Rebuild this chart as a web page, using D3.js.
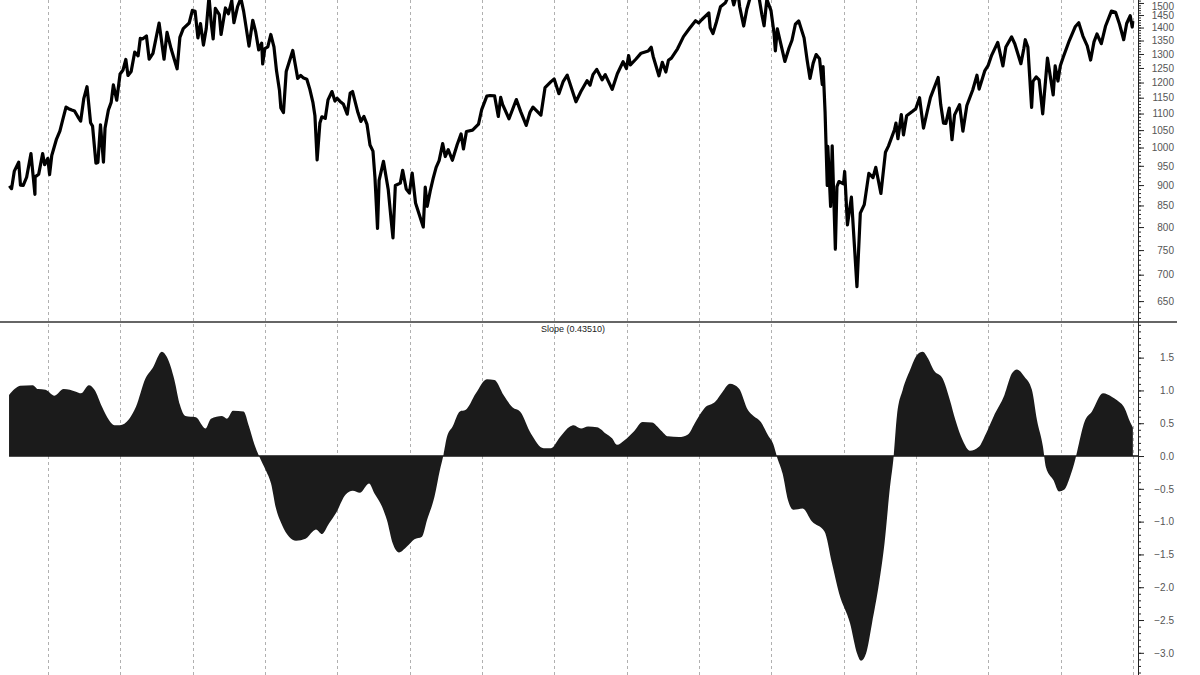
<!DOCTYPE html>
<html><head><meta charset="utf-8">
<script src="https://cdn.jsdelivr.net/npm/d3@7"></script>
<style>body{margin:0;background:#fff}svg{display:block}</style>
</head><body>
<svg id="c" width="1200" height="675"></svg>
<script>
// ---------------- DATA ----------------
const priceDates = [
 "1997-06-20","1997-07-01","1997-07-15","1997-08-06","1997-08-15","1997-08-29","1997-09-15","1997-10-07","1997-10-27","1997-10-28","1997-11-15","1997-12-05","1997-12-15","1997-12-31",
 "1998-01-09","1998-01-20","1998-02-13","1998-03-02","1998-03-16","1998-04-02","1998-04-15","1998-05-01","1998-05-15","1998-06-01","1998-06-15","1998-07-01","1998-07-17","1998-08-04","1998-08-14","1998-08-31","1998-09-10","1998-09-23","1998-10-08","1998-10-16","1998-11-02","1998-11-16","1998-11-27","1998-12-14","1998-12-31",
 "1999-01-15","1999-01-29","1999-02-09","1999-02-25","1999-03-15","1999-04-01","1999-04-12","1999-04-23","1999-05-13","1999-05-27","1999-06-15","1999-07-16","1999-08-10","1999-08-25","1999-09-15","1999-10-15","1999-10-29","1999-11-15","1999-12-15","1999-12-31",
 "2000-01-14","2000-01-28","2000-02-10","2000-02-25","2000-03-10","2000-03-24","2000-04-04","2000-04-14","2000-04-25","2000-05-15","2000-05-24","2000-06-15","2000-06-30","2000-07-17","2000-07-28","2000-08-15","2000-09-01","2000-09-15","2000-10-12","2000-10-31","2000-11-15","2000-11-30","2000-12-15","2000-12-20","2000-12-31",
 "2001-01-15","2001-01-30","2001-02-15","2001-02-28","2001-03-15","2001-03-22","2001-04-04","2001-04-18","2001-05-21","2001-06-15","2001-06-30","2001-07-15","2001-07-31","2001-08-15","2001-08-31","2001-09-10","2001-09-21","2001-10-05","2001-10-15","2001-11-01","2001-11-15","2001-12-05","2001-12-20","2001-12-31",
 "2002-01-15","2002-01-31","2002-02-20","2002-03-07","2002-03-19","2002-04-15","2002-04-30","2002-05-15","2002-05-31","2002-06-15","2002-06-30","2002-07-10","2002-07-23","2002-07-31","2002-08-22","2002-09-15","2002-09-30","2002-10-09","2002-10-21","2002-11-15","2002-11-27","2002-12-15","2002-12-31",
 "2003-01-14","2003-01-31","2003-02-15","2003-03-11","2003-03-21","2003-03-31","2003-04-15","2003-04-30","2003-05-15","2003-05-30","2003-06-17","2003-06-30","2003-07-15","2003-08-05","2003-08-29","2003-09-18","2003-09-30","2003-10-15","2003-11-15","2003-12-15","2003-12-31",
 "2004-01-26","2004-02-11","2004-03-05","2004-03-24","2004-04-05","2004-04-15","2004-05-17","2004-06-23","2004-07-15","2004-08-12","2004-08-31","2004-09-15","2004-10-25","2004-11-15","2004-12-15","2004-12-31",
 "2005-01-24","2005-02-15","2005-03-07","2005-04-20","2005-05-15","2005-06-15","2005-06-30","2005-07-15","2005-08-03","2005-08-30","2005-09-15","2005-10-20","2005-11-15","2005-12-14","2005-12-31",
 "2006-01-11","2006-01-20","2006-02-15","2006-03-15","2006-04-20","2006-05-05","2006-05-15","2006-06-13","2006-06-30","2006-07-18","2006-07-31","2006-08-15","2006-09-15","2006-10-15","2006-11-15","2006-12-15","2006-12-31",
 "2007-01-15","2007-02-20","2007-02-27","2007-03-13","2007-03-30","2007-04-20","2007-05-15","2007-06-04","2007-06-15","2007-06-26","2007-07-16","2007-07-26","2007-08-15","2007-08-31","2007-09-19","2007-10-09","2007-10-30","2007-11-15","2007-11-26","2007-12-10","2007-12-31",
 "2008-01-15","2008-01-22","2008-02-01","2008-02-15","2008-03-10","2008-03-31","2008-04-15","2008-05-02","2008-05-19","2008-06-15","2008-06-30","2008-07-15","2008-07-31","2008-08-15","2008-09-01","2008-09-15","2008-09-19","2008-09-29","2008-10-10","2008-10-13","2008-10-27","2008-11-04","2008-11-20","2008-11-28","2008-12-08","2008-12-31",
 "2009-01-06","2009-01-20","2009-02-09","2009-03-09","2009-03-26","2009-04-15","2009-05-08","2009-05-29","2009-06-12","2009-07-08","2009-07-31","2009-08-15","2009-09-15","2009-09-22","2009-10-02","2009-10-19","2009-10-30","2009-11-15","2009-12-15","2009-12-31",
 "2010-01-19","2010-02-08","2010-02-26","2010-03-15","2010-04-23","2010-05-06","2010-05-20","2010-06-01","2010-06-18","2010-07-02","2010-07-15","2010-08-09","2010-08-26","2010-09-15","2010-10-15","2010-11-05","2010-11-16","2010-12-15","2010-12-31",
 "2011-01-18","2011-02-18","2011-03-16","2011-03-31","2011-04-29","2011-05-15","2011-06-15","2011-06-30","2011-07-07","2011-07-20","2011-08-08","2011-08-15","2011-08-31","2011-09-15","2011-10-03","2011-10-27","2011-11-25","2011-12-05","2011-12-19","2011-12-31",
 "2012-01-15","2012-02-15","2012-03-15","2012-04-02","2012-04-23","2012-05-15","2012-06-01","2012-06-18","2012-07-03","2012-07-25","2012-08-15","2012-09-14","2012-10-05","2012-10-25","2012-11-15","2012-11-30","2012-12-18","2012-12-28","2012-12-31"
];
const priceValues = [
 898,891,936,960,900,899,920,983,877,921,928,983,953,970,
 927,978,1024,1047,1080,1120,1115,1111,1108,1090,1077,1148,1186,1072,1062,957,959,1066,960,1056,1111,1135,1192,1142,1229,
 1243,1280,1224,1238,1307,1293,1358,1356,1367,1281,1302,1418,1281,1381,1318,1247,1362,1396,1418,1469,
 1465,1360,1416,1333,1395,1527,1420,1356,1477,1452,1373,1479,1455,1510,1419,1484,1520,1465,1329,1429,1382,1315,1340,1264,1320,
 1326,1373,1326,1240,1173,1117,1103,1238,1313,1214,1224,1215,1211,1178,1134,1093,966,1071,1090,1085,1143,1170,1139,1148,
 1138,1130,1098,1165,1170,1103,1076,1091,1067,1007,990,920,797,912,962,889,815,776,899,905,938,890,880,
 931,856,834,800,895,848,885,917,946,964,1011,975,994,965,1008,1039,996,1046,1050,1068,1112,
 1155,1157,1156,1091,1151,1128,1084,1144,1106,1064,1104,1120,1095,1183,1203,1212,
 1163,1204,1225,1137,1170,1206,1191,1227,1245,1209,1227,1177,1230,1272,1248,
 1294,1261,1280,1303,1311,1325,1291,1223,1270,1236,1277,1285,1319,1365,1397,1427,1418,
 1431,1459,1399,1377,1421,1484,1501,1539,1532,1492,1553,1483,1406,1474,1529,1565,1531,1451,1407,1515,1468,
 1380,1311,1395,1349,1273,1322,1351,1413,1426,1360,1280,1214,1267,1298,1283,1193,1255,1106,899,1003,848,1005,752,896,909,903,
 935,805,870,677,832,852,930,919,946,879,987,1004,1052,1071,1025,1097,1036,1093,1107,1115,
 1150,1056,1104,1150,1217,1128,1071,1070,1117,1022,1096,1128,1047,1125,1176,1225,1178,1241,1258,
 1295,1343,1257,1326,1364,1338,1265,1321,1353,1326,1119,1204,1219,1209,1099,1285,1159,1257,1205,1258,
 1289,1351,1403,1419,1367,1330,1278,1345,1375,1338,1405,1466,1461,1413,1353,1416,1447,1402,1426
];

// slope oscillator: time in decimal years
const slopeYears = [
 1997.461,1997.537,1997.613,1997.788,1997.862,1997.965,1998.090,1998.216,1998.387,1998.456,1998.567,1998.643,1998.747,1998.843,1998.919,1998.995,
 1999.120,1999.217,1999.348,1999.448,1999.576,1999.645,1999.749,1999.825,1999.901,
 2000.046,2000.178,2000.254,2000.406,2000.475,2000.558,2000.704,2000.779,2000.855,2000.917,
 2001.007,2001.083,2001.152,2001.235,2001.332,2001.429,2001.560,2001.660,2001.705,2001.788,2001.885,2001.982,
 2002.113,2002.213,2002.314,2002.438,2002.514,2002.618,2002.687,2002.766,2002.853,2002.963,
 2003.067,2003.171,2003.240,2003.344,2003.420,2003.469,2003.516,2003.595,2003.696,2003.772,2003.917,
 2004.069,2004.173,2004.299,2004.425,2004.526,2004.678,2004.852,2004.954,
 2005.079,2005.217,2005.267,2005.369,2005.466,2005.590,2005.715,2005.798,2005.867,2005.970,
 2006.096,2006.222,2006.350,2006.475,2006.572,2006.724,2006.848,2006.952,
 2007.076,2007.228,2007.328,2007.429,2007.553,2007.678,2007.755,2007.857,2007.954,
 2008.032,2008.079,2008.158,2008.231,2008.308,2008.434,2008.563,2008.735,2008.839,2008.936,
 2009.088,2009.185,2009.240,2009.309,2009.392,2009.489,2009.565,2009.641,2009.691,2009.738,2009.817,2009.918,
 2010.014,2010.093,2010.166,2010.244,2010.369,2010.470,2010.546,2010.646,2010.747,2010.871,2010.968,
 2011.073,2011.224,2011.328,2011.397,2011.501,2011.604,2011.674,2011.757,2011.798,2011.903,2011.978,
 2012.054,2012.130,2012.206,2012.254,2012.330,2012.434,2012.586,2012.711,2012.780,2012.884,2012.960,2012.998
];
const slopeValues = [
 0.93,1.02,1.07,1.08,1.02,1.01,0.92,1.02,0.98,0.955,1.08,1.01,0.75,0.55,0.47,0.47,
 0.56,0.75,1.18,1.34,1.59,1.51,1.16,0.78,0.61,
 0.59,0.42,0.57,0.61,0.57,0.69,0.68,0.45,0.17,0.0,
 -0.21,-0.42,-0.80,-1.05,-1.23,-1.29,-1.26,-1.15,-1.12,-1.19,-1.03,-0.87,
 -0.59,-0.53,-0.56,-0.42,-0.57,-0.77,-0.98,-1.33,-1.47,-1.38,
 -1.27,-1.23,-0.98,-0.62,-0.21,0.02,0.29,0.45,0.68,0.70,0.955,
 1.17,1.16,0.93,0.74,0.68,0.34,0.12,0.12,
 0.29,0.45,0.47,0.42,0.45,0.44,0.34,0.27,0.17,0.24,
 0.37,0.52,0.51,0.39,0.30,0.29,0.33,0.52,
 0.73,0.83,0.98,1.10,1.03,0.70,0.61,0.52,0.32,
 0.17,-0.01,-0.27,-0.67,-0.82,-0.80,-1.00,-1.15,-1.64,-2.09,
 -2.55,-3.01,-3.12,-3.01,-2.55,-1.94,-1.33,-0.47,-0.01,0.63,1.01,1.31,
 1.54,1.59,1.49,1.31,1.18,0.85,0.55,0.24,0.08,0.14,0.34,
 0.60,0.93,1.26,1.32,1.21,1.01,0.55,0.14,-0.17,-0.37,-0.54,
 -0.51,-0.32,-0.04,0.19,0.52,0.68,0.955,0.90,0.85,0.73,0.52,0.435
];

const priceTicks = [650,700,750,800,850,900,950,1000,1050,1100,1150,1200,1250,1300,1350,1400,1450,1500];
const slopeTicks = [-3.0,-2.5,-2.0,-1.5,-1.0,-0.5,0.0,0.5,1.0,1.5];
const slopeTitle = "Slope (0.43510)";

// ---------------- CHART ----------------
const svg = d3.select("#c");
const axisX = 1138, divY = 322, H = 675;
const FONT = "'Liberation Sans', Arial, sans-serif";

const parse = d3.timeParse("%Y-%m-%d");
function fromYear(t){ const y=Math.floor(t); const s=new Date(y,0,1), e=new Date(y+1,0,1); return new Date(+s+(t-y)*(e-s)); }

const price = priceDates.map((d,i)=>({date:parse(d), v:priceValues[i]}));
const slope = slopeYears.map((t,i)=>({date:fromYear(t), v:slopeValues[i]}));

const x = d3.scaleTime().domain([new Date(1998,0,1), new Date(2013,0,1)]).range([48,1133]);
const yP = d3.scaleLog().domain([613,1512.5]).range([divY,0]);
const yS = d3.scaleLinear().domain([-3.338,2.043]).range([H,divY]);

// vertical gridlines (year starts)
svg.append("g").selectAll("line").data(x.ticks(d3.timeYear.every(1))).join("line")
  .attr("x1",d=>Math.round(x(d))+0.5).attr("x2",d=>Math.round(x(d))+0.5)
  .attr("y1",0).attr("y2",H)
  .attr("stroke","#b0b0b0").attr("stroke-width",1).attr("stroke-dasharray","3,3");

// clip for top panel
svg.append("defs").append("clipPath").attr("id","clipTop")
  .append("rect").attr("x",0).attr("y",0).attr("width",axisX).attr("height",divY);

// price line
svg.append("path").datum(price)
  .attr("clip-path","url(#clipTop)")
  .attr("fill","none").attr("stroke","#000").attr("stroke-width",3.2)
  .attr("stroke-linejoin","round")
  .attr("d", d3.line().x(d=>x(d.date)).y(d=>yP(d.v)));

// slope zero line
svg.append("line")
  .attr("x1", x(slope[0].date)).attr("x2", axisX)
  .attr("y1", yS(0)).attr("y2", yS(0))
  .attr("stroke","#111").attr("stroke-width",1.5);

// slope area
svg.append("path").datum(slope)
  .attr("fill","#1b1b1b")
  .attr("d", d3.area().curve(d3.curveMonotoneX)
    .x(d=>x(d.date)).y0(yS(0)).y1(d=>yS(d.v)));

// panel divider
svg.append("line").attr("x1",0).attr("x2",1177).attr("y1",divY).attr("y2",divY)
  .attr("stroke","#333").attr("stroke-width",1.5);

// right axes
function styleAxis(g){
  g.select(".domain").remove();
  g.selectAll(".tick line").attr("stroke","#222");
  g.selectAll(".tick text").attr("x",36).attr("text-anchor","end")
    .attr("fill","#555").style("font-family",FONT).style("font-size","10px");
}
const minorP = d3.range(620,1511,10);
svg.append("g").attr("transform",`translate(${axisX},0)`)
  .call(d3.axisRight(yP).tickValues(minorP).tickSize(3).tickFormat(""))
  .call(g=>g.select(".domain").remove()).selectAll("line").attr("stroke","#222");
svg.append("g").attr("transform",`translate(${axisX},0)`)
  .call(d3.axisRight(yP).tickValues(priceTicks).tickSize(6).tickFormat(d3.format("d")))
  .call(styleAxis)
  .call(g=>g.selectAll(".tick text").filter(d=>d===1500).attr("dy","0.62em"));

const minorS = d3.range(-33,21,1).map(d=>d/10);
svg.append("g").attr("transform",`translate(${axisX},0)`)
  .call(d3.axisRight(yS).tickValues(minorS).tickSize(3).tickFormat(""))
  .call(g=>g.select(".domain").remove()).selectAll("line").attr("stroke","#222");
svg.append("g").attr("transform",`translate(${axisX},0)`)
  .call(d3.axisRight(yS).tickValues(slopeTicks).tickSize(6).tickFormat(d3.format(".1f")))
  .call(styleAxis);

// axis line
svg.append("line").attr("x1",axisX+0.5).attr("x2",axisX+0.5).attr("y1",0).attr("y2",H)
  .attr("stroke","#222").attr("stroke-width",1);

// slope title
svg.append("text").attr("x",573).attr("y",332).attr("text-anchor","middle")
  .attr("fill","#222").style("font-family",FONT).style("font-size","9px")
  .text(slopeTitle);
</script>
</body></html>
